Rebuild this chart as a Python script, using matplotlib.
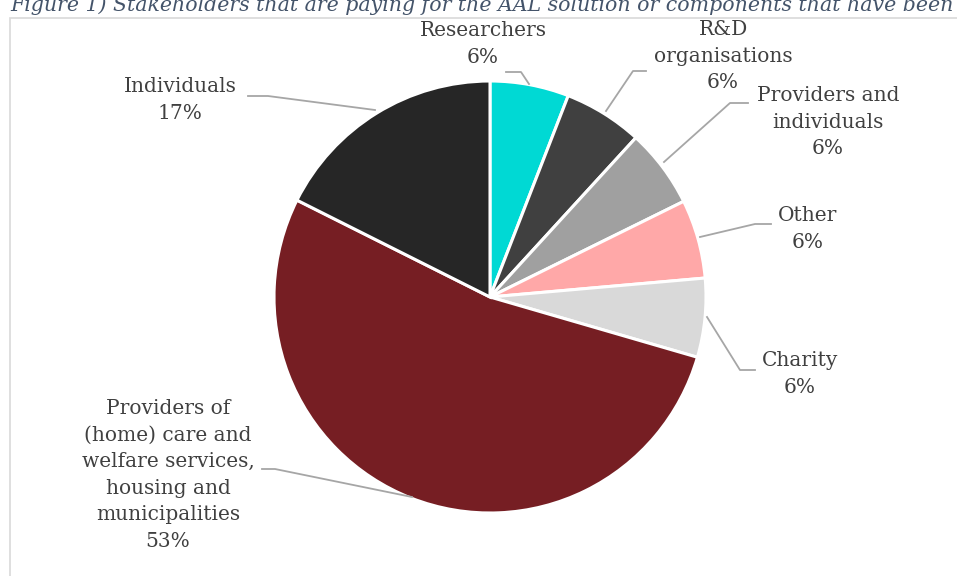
import matplotlib.pyplot as plt
from matplotlib.patches import Rectangle

# dati della torta (in senso orario da ore 12)
etichette = ['Researchers', 'R&D\norganisations', 'Providers and\nindividuals', 'Other',
             'Charity', 'Providers of\n(home) care and\nwelfare services,\nhousing and\nmunicipalities',
             'Individuals']
valori = [5.9, 5.9, 5.9, 5.9, 5.9, 52.9, 17.6]
percentuali = ['6%', '6%', '6%', '6%', '6%', '53%', '17%']  # come scritto nelle etichette
colori = ['#00d9d4', '#404040', '#a0a0a0', '#ffa8a8', '#d9d9d9', '#761e23', '#262626']

W, H = 957, 576
fig = plt.figure(figsize=(W / 100, H / 100), dpi=100)
ax = fig.add_axes([0, 0, 1, 1])

def Y(y):
    # coordinate come nell'immagine (y dall'alto)
    return H - y

cx, cy, r = 490, Y(297), 216
ax.pie(valori, colors=colori, startangle=90, counterclock=False, center=(cx, cy), radius=r,
       wedgeprops=dict(edgecolor='white', linewidth=2.2), frame=True)
ax.set_xlim(0, W)
ax.set_ylim(0, H)
ax.set_aspect('equal')
ax.axis('off')

# cornice del grafico
ax.add_patch(Rectangle((10, -5), W, Y(18) + 5, fill=False, edgecolor='#d9d9d9', lw=1.2))

# titolo tagliato in alto (come nell'originale)
ax.text(10, Y(5), 'Figure 1) Stakeholders that are paying for the AAL solution or components that have been',
        fontsize=14.8, style='italic', family='DejaVu Serif', color='#44546a', va='center', ha='left')

# posizione testo e linee guida (coordinate immagine)
pos_testo = [(483, 44), (723, 56), (828, 122), (808, 229), (800, 374), (168, 475), (180, 100)]
linee = [
    [(506, 72), (521, 72), (529, 84)],
    [(646, 71), (633, 71), (606, 111)],
    [(748, 103), (730, 103), (664, 162)],
    [(771, 224), (755, 224), (700, 237)],
    [(755, 370), (740, 370), (707, 317)],
    [(262, 469), (275, 469), (412, 497)],
    [(248, 96), (268, 96), (375, 110)],
]

for i in range(len(valori)):
    testo = etichette[i] + '\n' + percentuali[i]
    x, y = pos_testo[i]
    ax.text(x, Y(y), testo, ha='center', va='center', fontsize=14.5, family='DejaVu Serif',
            color='#404040', linespacing=1.5)
    xs = [p[0] for p in linee[i]]
    ys = [Y(p[1]) for p in linee[i]]
    ax.plot(xs, ys, color='#a6a6a6', lw=1.3, clip_on=False)

fig.savefig('out.png', dpi=100)
